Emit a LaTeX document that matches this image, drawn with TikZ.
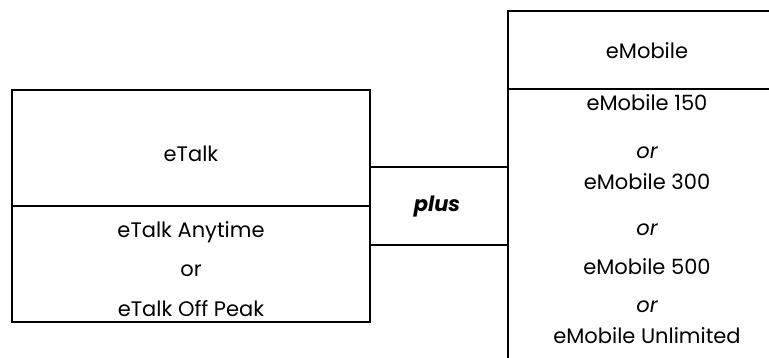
\documentclass[tikz,border=0pt]{standalone}
\usepackage{fontspec}
\setmainfont{Poppins}
\begin{document}
\begin{tikzpicture}[x=1pt,y=-1pt,
  box/.style={draw,line width=1.5pt,inner sep=0pt},
  lbl/.style={font=\fontsize{21}{24}\selectfont,inner sep=0pt,anchor=center},
  orlbl/.style={font=\fontsize{21}{24}\selectfont\itshape,inner sep=0pt},
  conn/.style={line width=1.5pt}]
\useasboundingbox (0,0) rectangle (769,357);
\clip (0,0) rectangle (769,357);
% left box
\node[box,minimum width=358pt,minimum height=116pt] (talktop) at (191,148) {};
\node[box,minimum width=358pt,minimum height=116pt] (talkbot) at (191,264) {};
% right box
\node[box,minimum width=278pt,minimum height=78pt] (mobtop) at (647,50) {};
\node[box,minimum width=278pt,minimum height=290pt] (mobbot) at (647,234) {};
% texts
\node[lbl] (t1) at (191,154) {eTalk};
\node[lbl] (t2) at (191,232) {eTalk Anytime};
\node[lbl] (t3) at (191,271) {or};
\node[lbl] (t4) at (191,309) {eTalk Off Peak};
\node[lbl] (m0) at (647,51) {eMobile};
\node[lbl] (m1) at (647,103) {eMobile 150};
\node[orlbl] (o1) at (647,153) {or};
\node[lbl] (m2) at (647,182) {eMobile 300};
\node[orlbl] (o2) at (647,230) {or};
\node[lbl] (m3) at (647,267) {eMobile 500};
\node[orlbl] (o3) at (647,307) {or};
\node[lbl] (m4) at (647,336) {eMobile Unlimited};
% connectors
\coordinate (a1) at (talktop.east |- 0,167);
\coordinate (b1) at (mobbot.west |- 0,167);
\coordinate (a2) at (talkbot.east |- 0,245);
\coordinate (b2) at (mobbot.west |- 0,245);
\draw[conn] (a1) -- (b1);
\draw[conn] (a2) -- (b2);
\node[font=\fontsize{21}{24}\selectfont\bfseries\itshape,inner sep=0pt] (plus) at (437,207) {plus};
\end{tikzpicture}
\end{document}
